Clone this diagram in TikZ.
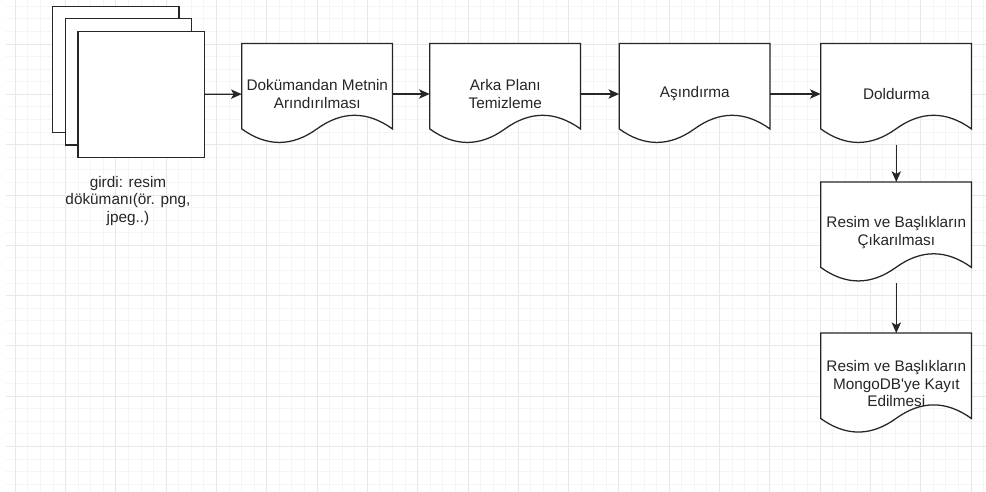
\documentclass[tikz,border=0pt]{standalone}
\usepackage{fontspec}
\setmainfont{Liberation Sans}
\usepackage{tikz}
\usetikzlibrary{arrows.meta, positioning}
\pgfdeclarelayer{bg}
\pgfsetlayers{bg,main}

\begin{document}
\begin{tikzpicture}[
        x=0.75pt, y=-0.75pt,
        >={Stealth[length=8pt, width=7pt, inset=2pt]},
        every node/.style={font=\fontsize{11.5}{13.2}\selectfont, text=black!85, align=center},
        doc/.style={rectangle, minimum width=113pt, minimum height=75.4pt, inner sep=0pt},
        sheet/.style={rectangle, draw=black!85, fill=white, line width=0.95pt, minimum size=94.7pt, inner sep=0pt},
        line/.style={draw=black!85, line width=0.95pt},
        minor/.style={draw=black!4, line width=0.75pt},
        major/.style={draw=black!9, line width=0.75pt}
    ]
        \useasboundingbox (0,0) rectangle (986,492);

        % ================= GRID =================
        \begin{pgfonlayer}{bg}
        \fill[white] (0,0) rectangle (986,492);
        \foreach \i in {0,...,77}
            \draw[minor] ({15.3+12.575*\i},0) -- ({15.3+12.575*\i},492);
        \foreach \j in {-3,...,35}
            \draw[minor] (6,{44.1+12.575*\j}) -- (986,{44.1+12.575*\j});
        \foreach \i in {0,...,19}
            \draw[major] ({15.3+50.3*\i},0) -- ({15.3+50.3*\i},492);
        \foreach \j in {0,...,8}
            \draw[major] (6,{44.1+50.3*\j}) -- (986,{44.1+50.3*\j});
        \end{pgfonlayer}

        % ================= GIRDI =================
        \node[sheet] (sheet1) at (115.8, 69.3) {};
        \node[sheet] (sheet2) at (128.5, 82) {};
        \node[sheet] (sheet3) at (141, 94.3) {};
        \node (girdi) at (128, 201) {girdi: resim\\dökümanı(ör. png,\\jpeg..)};

        % ================= ADIMLAR =================
        \node[doc] (arindir) at (317.3, 94) {Dokümandan Metnin\\Arındırılması};
        \node[doc] (temizle) at (505.3, 94) {Arka Planı\\Temizleme};
        \node[doc] (asindir) at (694.8, 94) {Aşındırma};
        \node[doc] (doldur) at (896.3, 94) {Doldurma};
        \node[doc] (cikar) at (896.3, 232.5) {Resim ve Başlıkların\\Çıkarılması};
        \node[doc] (kayit) at (896.3, 383.6) {Resim ve Başlıkların\\MongoDB\textquotesingle ye Kayıt\\Edilmesi};

        % belge kenarları (dalgalı alt)
        \begin{pgfonlayer}{bg}
        \foreach \n in {arindir, temizle, asindir, doldur, cikar, kayit}
            \path[line, fill=white, shift={(\n.north west)}]
                (0,0) -- (150.7,0) -- (150.7,85.4)
                .. controls (125.5,67.3) and (100.4,67.3) .. (75.3,85.4)
                .. controls (50.2,103.5) and (25.1,103.5) .. (0,85.4) -- cycle;
        \end{pgfonlayer}

        \draw[->, line] (sheet3) -- (arindir);
        \draw[->, line] (arindir) -- (temizle);
        \draw[->, line] (temizle) -- (asindir);
        \draw[->, line] (asindir) -- (doldur);
        \draw[->, line] (doldur) -- (cikar);
        \draw[->, line] (cikar) -- (kayit);
    \end{tikzpicture}
\end{document}
